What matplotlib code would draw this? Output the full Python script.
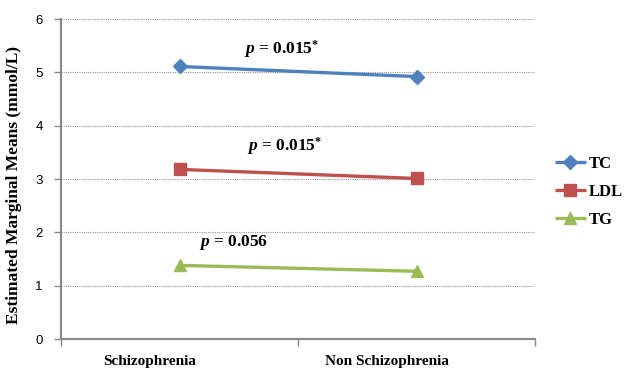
import numpy as np
import matplotlib.pyplot as plt

plt.rcParams["mathtext.fontset"] = "custom"
plt.rcParams["mathtext.it"] = "Liberation Serif:italic:bold"
plt.rcParams["mathtext.rm"] = "Liberation Serif:bold"
plt.rcParams["mathtext.bf"] = "Liberation Serif:bold"

groups = ["Schizophrenia", "Non Schizophrenia"]
tc = [5.11, 4.92]
ldl = [3.18, 3.01]
tg = [1.38, 1.27]
series_names = ["TC", "LDL", "TG"]
p_labels = ["0.015", "0.015", "0.056"]

colors = ["#4F81BD", "#C0504D", "#9BBB59"]
markers = ["D", "s", "^"]
msizes = [7, 9, 9]

fig = plt.figure(figsize=(6.28, 3.69), dpi=100)
ax = fig.add_axes([61 / 628, 1 - 339 / 369, 474 / 628, 320 / 369])

x = np.arange(len(groups))
for vals, name, c, m, ms in zip([tc, ldl, tg], series_names, colors, markers, msizes):
    ax.plot(x, vals, color=c, linewidth=2.4, marker=m, markersize=ms, label=name,
            solid_capstyle="butt")

ax.set_xlim(-0.5, 1.5)
ax.set_ylim(0, 6)
ax.set_yticks(range(0, 7))
ax.set_xticks([-0.5, 0.5, 1.5])
ax.set_xticklabels([])
# category labels sit a little left of the points, as in the original
ax.set_xticks(x - 0.125, minor=True)
ax.set_xticklabels(groups, minor=True, fontfamily="Liberation Serif", fontweight="bold", fontsize=11)
ax.tick_params(axis="x", which="minor", length=0, pad=11.5)
ax.tick_params(axis="x", which="major", length=5, color="#888888", width=1)
ax.tick_params(axis="y", length=5, color="#888888", width=1, labelsize=9.5, pad=8)
for lab in ax.get_yticklabels():
    lab.set_fontfamily("Liberation Sans")

ax.grid(axis="y", linestyle=(0, (1, 1)), color="#999999", linewidth=0.8)
ax.set_axisbelow(True)
for s in ["top", "right"]:
    ax.spines[s].set_visible(False)
for s in ["left", "bottom"]:
    ax.spines[s].set_color("#888888")
    ax.spines[s].set_linewidth(1.5)

ax.set_ylabel("Estimated Marginal Means (mmol/L)", fontfamily="Liberation Serif",
              fontweight="bold", fontsize=12.5)
ax.yaxis.set_label_coords(-0.082, 0.48)

# p-value labels
text_pos = [(0.43, 5.44, True), (0.445, 3.62, True), (0.23, 1.8, False)]
for (tx, ty, star), p in zip(text_pos, p_labels):
    ax.text(tx, ty, "$p$ = " + p + ("$^{*}$" if star else ""), ha="center", va="center",
            fontsize=12.5, fontweight="bold", fontfamily="Liberation Serif")

leg = fig.legend(*ax.get_legend_handles_labels(), loc="upper left",
                 bbox_to_anchor=(555 / 628, 1 - 156 / 369), frameon=False,
                 prop={"family": "Liberation Serif", "weight": "bold", "size": 12},
                 handlelength=1.85, handletextpad=0.15, labelspacing=0.72, borderpad=0,
                 borderaxespad=0)

fig.savefig("out.png", dpi=100)
